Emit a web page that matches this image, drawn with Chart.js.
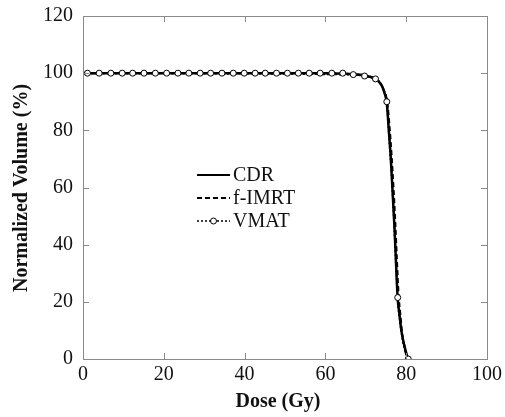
<!DOCTYPE html>
<html>
<head>
<meta charset="utf-8">
<script src="https://cdn.jsdelivr.net/npm/chart.js@4.4.0/dist/chart.umd.min.js"></script>
<style>
  html, body { margin: 0; padding: 0; background: #fff; }
  #wrap { width: 505px; height: 417px; }
</style>
</head>
<body>
<div id="wrap"><canvas id="chartDvh" width="505" height="417"></canvas></div>
<script>
// values
const xTicks = [0, 20, 40, 60, 80, 100]
const yTicks = [0, 20, 40, 60, 80, 100, 120]

const cdrDose = [0, 10, 20, 30, 40, 50, 60, 65, 68, 70, 72, 73, 74, 74.6, 75.2, 75.7, 76.2, 76.65, 77.1, 77.5, 77.9, 78.3, 78.7, 79.2, 79.7, 80.2, 80.6]
const cdrVol = [100, 100, 100, 100, 100, 100, 100, 99.8, 99.5, 99.1, 98.3, 97.4, 95.5, 93.2, 89.5, 80, 70, 58, 46, 33, 21, 16, 11, 6.8, 3.8, 1.2, 0]

const fimrtDose = [0, 20, 40, 60, 66, 70, 72, 73.6, 74.6, 75.3, 75.9, 76.4, 76.9, 77.3, 77.7, 78.1, 78.6, 79.0, 79.5, 79.9, 80.4]
const fimrtVol = [100, 100, 100, 100, 99.7, 99.0, 98.2, 96.4, 93.5, 90, 81, 71, 59, 48, 35, 23, 15, 9, 5, 2, 0]

const vmatDose = [0, 66.9, 69.7, 72.4, 73.6, 74.6, 75.2, 75.8, 76.5, 77.2, 77.9, 78.5, 79.1, 79.7, 80.5]
const vmatVol = [100, 99.5, 99, 98, 96.5, 93.5, 90, 77, 62, 42, 21, 13, 7, 3, 0]

// VMAT open circles
const vmatMarkDose = [1.1, 4.0, 6.9, 9.7, 12.3, 15.1, 17.9, 20.7, 23.5, 26.2, 29.0, 31.6, 34.4, 37.2, 39.9,
    42.6, 45.1, 47.9, 50.6, 53.3, 56.0, 58.7, 61.6, 64.3, 66.9, 69.7, 72.4, 75.2, 77.9, 80.5]
const vmatMarkVol = [100, 100, 100, 100, 100, 100, 100, 100, 100, 100, 100, 100, 100, 100, 100,
    100, 100, 100, 100, 100, 100, 100, 100, 100, 99.5, 99, 98, 90, 21.5, 0]

const legendNames = ['CDR', 'f-IMRT', 'VMAT']

const puntos = (xs, ys) => xs.map((x, i) => ({ x, y: ys[i] }))

const serif = '"Liberation Serif", "Times New Roman", serif'
const gris = '#8a8a8a'

// ticks hacia adentro, marco, titulos y leyenda
const marco = {
    id: 'marco',
    afterDraw(chart) {
        const { ctx, chartArea: a, scales } = chart
        ctx.save()
        ctx.strokeStyle = gris
        ctx.lineWidth = 1
        ctx.strokeRect(a.left + 0.5, a.top + 0.5, a.right - a.left, a.bottom - a.top)
        const t = 6
        ctx.beginPath()
        xTicks.slice(1, -1).forEach(v => {
            const px = Math.round(scales.x.getPixelForValue(v)) + 0.5
            ctx.moveTo(px, a.bottom); ctx.lineTo(px, a.bottom - t)
            ctx.moveTo(px, a.top); ctx.lineTo(px, a.top + t)
        })
        yTicks.slice(1, -1).forEach(v => {
            const py = Math.round(scales.y.getPixelForValue(v)) + 0.5
            ctx.moveTo(a.left, py); ctx.lineTo(a.left + t, py)
            ctx.moveTo(a.right, py); ctx.lineTo(a.right - t, py)
        })
        ctx.stroke()

        // titulos
        ctx.fillStyle = '#111'
        ctx.font = 'bold 20px ' + serif
        ctx.textAlign = 'center'
        ctx.textBaseline = 'middle'
        ctx.fillText('Dose (Gy)', 278, 402)
        ctx.translate(22, 188)
        ctx.rotate(-Math.PI / 2)
        ctx.fillText('Normalized Volume (%)', 0, 0)
        ctx.setTransform(1, 0, 0, 1, 0, 0)

        // leyenda
        const filas = [175, 198, 221]
        const estilos = [[], [5, 3], [2, 2]]
        ctx.strokeStyle = '#000'
        ctx.font = '20px ' + serif
        ctx.textAlign = 'left'
        filas.forEach((y, i) => {
            ctx.beginPath()
            ctx.setLineDash(estilos[i])
            ctx.lineWidth = i === 2 ? 1.5 : 2
            ctx.moveTo(197, y); ctx.lineTo(230, y)
            ctx.stroke()
            ctx.setLineDash([])
            ctx.fillText(legendNames[i], 233, y + 1)
        })
        ctx.beginPath()
        ctx.arc(213.5, filas[2], 3, 0, Math.PI * 2)
        ctx.fillStyle = '#fff'
        ctx.fill()
        ctx.lineWidth = 1
        ctx.stroke()
        ctx.restore()
    }
}

const canvas = document.getElementById('chartDvh')
const ctx = canvas.getContext('2d')

const data = {
    datasets: [
        {
            label: 'VMAT marks',
            data: puntos(vmatMarkDose, vmatMarkVol),
            showLine: false,
            pointRadius: 3,
            pointBackgroundColor: '#fff',
            pointBorderColor: '#000',
            pointBorderWidth: 1,
            order: 0
        },
        {
            label: legendNames[2],
            data: puntos(vmatDose, vmatVol),
            showLine: true,
            borderColor: '#000',
            borderWidth: 2,
            borderDash: [2, 2],
            pointRadius: 0,
            cubicInterpolationMode: 'monotone',
            order: 1
        },
        {
            label: legendNames[1],
            data: puntos(fimrtDose, fimrtVol),
            showLine: true,
            borderColor: '#000',
            borderWidth: 2,
            borderDash: [5, 3],
            pointRadius: 0,
            cubicInterpolationMode: 'monotone',
            order: 2
        },
        {
            label: legendNames[0],
            data: puntos(cdrDose, cdrVol),
            showLine: true,
            borderColor: '#000',
            borderWidth: 2.5,
            pointRadius: 0,
            cubicInterpolationMode: 'monotone',
            order: 3
        }
    ]
}

const configChart = {
    type: 'scatter',
    data: data,
    options: {
        responsive: false,
        animation: false,
        layout: { padding: { top: 16, right: 18, left: 0, bottom: 0 } },
        plugins: {
            legend: { display: false },
            tooltip: { enabled: false }
        },
        scales: {
            x: {
                type: 'linear',
                min: 0,
                max: 100,
                afterBuildTicks: s => { s.ticks = xTicks.map(value => ({ value })) },
                afterFit: s => { s.height = 58; s.paddingLeft = 0; s.paddingRight = 0 },
                grid: { display: false, drawTicks: false, tickLength: 0 },
                border: { display: false },
                ticks: { color: '#111', padding: 4, font: { family: serif, size: 20 } }
            },
            y: {
                type: 'linear',
                min: 0,
                max: 120,
                afterBuildTicks: s => { s.ticks = yTicks.map(value => ({ value })) },
                afterFit: s => { s.width = 83; s.paddingTop = 0; s.paddingBottom = 0 },
                grid: { display: false, drawTicks: false, tickLength: 0 },
                border: { display: false },
                ticks: { color: '#111', padding: 10, font: { family: serif, size: 20 } }
            }
        }
    },
    plugins: [marco]
}

window.grafico = new Chart(ctx, configChart)
</script>
</body>
</html>
